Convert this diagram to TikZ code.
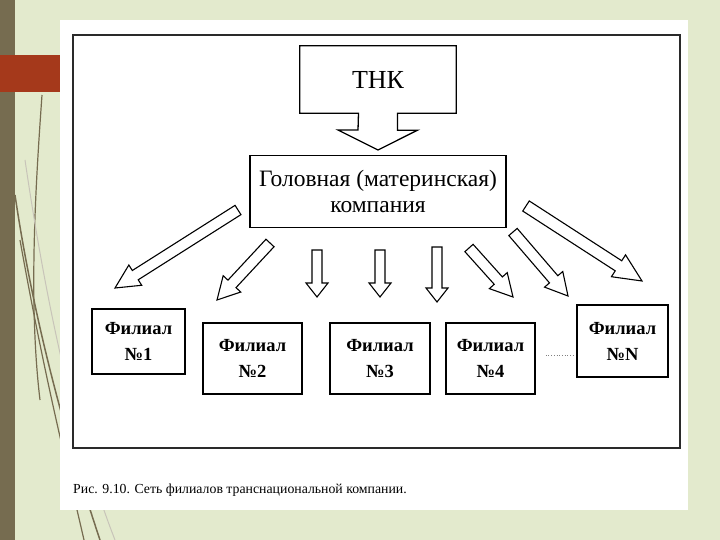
\documentclass[tikz,border=0pt]{standalone}
\usepackage{fontspec}
\setmainfont{Liberation Serif}
\usetikzlibrary{calc}
\definecolor{bggreen}{HTML}{E3EACD}
\definecolor{olive}{HTML}{766C50}
\definecolor{slidered}{HTML}{A5391B}
\definecolor{framegray}{HTML}{2A2A2A}
\tikzset{
  boxline/.style={draw=black, line width=1.5pt, fill=white},
  blockarr/.style={draw=black, line width=1.1pt, fill=white, line join=miter},
  branch/.style={boxline, inner sep=0pt, align=center, font=\bfseries\fontsize{18.5}{26}\selectfont},
}
\newcommand\barrow[5]{%
  \coordinate (bn) at ($(#2)!#5!(#1)$);
  \draw[blockarr] ($(#1)!#3!90:(#2)$) -- ($(bn)!#3!90:(#2)$) -- ($(bn)!#4!90:(#2)$) -- (#2)
    -- ($(bn)!#4!-90:(#2)$) -- ($(bn)!#3!-90:(#2)$) -- ($(#1)!#3!-90:(#2)$) -- cycle;}
\begin{document}
\begin{tikzpicture}[x=1pt,y=-1pt]
\useasboundingbox (0,0) rectangle (720,540);
% slide background
\fill[bggreen] (0,0) rectangle (720,540);
\fill[olive] (0,0) rectangle (15,540);
\fill[slidered] (0,55) rectangle (60,92);
\draw[olive, line width=1.2pt] (42,95) .. controls (36,180) and (28,300) .. (40,400);
\draw[olive, line width=1.5pt] (15,195) .. controls (35,330) and (70,450) .. (100,540);
\draw[olive, line width=1.2pt] (20,240) .. controls (45,380) and (68,470) .. (84,540);
\draw[olive!40, line width=1pt] (25,160) .. controls (50,330) and (80,450) .. (115,540);
% white panel and frame
\fill[white] (60,20) rectangle (688,510);
\draw[framegray, line width=1.3pt] (73,35) rectangle (680,448);
% TNK callout
\node (tnk) [inner sep=0pt, minimum width=156pt, minimum height=67pt, font=\fontsize{26}{30}\selectfont] at (378,79.5) {ТНК};
\coordinate (tnktip) at (378,150);
\draw[black, line width=1.3pt, line join=miter] (tnk.north west) -- (tnk.north east) -- (tnk.south east)
  -- ([xshift=19.5pt]tnk.south) -- ++(0,17) -- ++(20,0) -- (tnktip) -- ++(-40,-20) -- ++(20,0)
  -- ([xshift=-19.5pt]tnk.south) -- (tnk.south west) -- cycle;
% head company
\node (head) [boxline, line width=1.4pt, inner sep=0pt, minimum width=256pt, minimum height=72pt, align=center,
  font=\fontsize{23.5}{26}\selectfont] at (378,191.5) {Головная (материнская)\\компания};
% branches
\node (f1) [branch, minimum width=93pt, minimum height=65pt] at (138.5,341.5) {Филиал\\№1};
\node (f2) [branch, minimum width=99pt, minimum height=71pt] at (252.5,358.5) {Филиал\\№2};
\node (f3) [branch, minimum width=100pt, minimum height=71pt] at (380,358.5) {Филиал\\№3};
\node (f4) [branch, minimum width=89pt, minimum height=71pt] at (490.5,358.5) {Филиал\\№4};
\node (fn) [branch, minimum width=91pt, minimum height=72pt] at (622.5,341) {Филиал\\№N};
\draw[gray, line width=0.7pt, dotted] ([xshift=10pt,yshift=3.5pt]f4.east) -- ([xshift=-2pt,yshift=-14pt]fn.west);
% arrow end points
\coordinate (a1t) at (238,210); \coordinate (a1h) at (115,288);
\coordinate (a2t) at (270,243); \coordinate (a2h) at (217,300);
\coordinate (d1t) at (317,250); \coordinate (d1h) at (317,297);
\coordinate (d2t) at (380,250); \coordinate (d2h) at (380,297);
\coordinate (d3t) at (437,247); \coordinate (d3h) at (437,302);
\coordinate (r1t) at (469,248); \coordinate (r1h) at (513,297);
\coordinate (r2t) at (513,232); \coordinate (r2h) at (568,296);
\coordinate (r3t) at (526,206); \coordinate (r3h) at (642,281);
\barrow{a1t}{a1h}{5.5pt}{12pt}{24pt}
\barrow{a2t}{a2h}{5.5pt}{12pt}{22pt}
\barrow{d1t}{d1h}{5pt}{11pt}{14pt}
\barrow{d2t}{d2h}{5pt}{11pt}{14pt}
\barrow{d3t}{d3h}{5pt}{11pt}{14pt}
\barrow{r1t}{r1h}{5.5pt}{12pt}{22pt}
\barrow{r2t}{r2h}{5.5pt}{12pt}{22pt}
\barrow{r3t}{r3h}{6pt}{13pt}{28pt}
% caption
\node (cap) [anchor=west, inner sep=0pt, font=\fontsize{13.8}{15}\selectfont] at (73,490) {Рис. 9.10. Сеть филиалов транснациональной компании.};
\end{tikzpicture}
\end{document}
